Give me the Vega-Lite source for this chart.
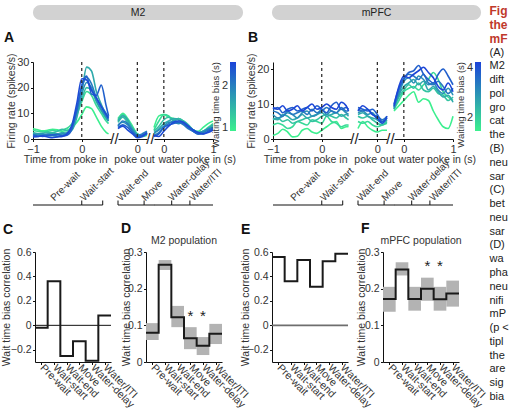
{
  "$schema": "https://vega.github.io/schema/vega-lite/v6.json",
  "autosize": {"type": "pad"},
  "padding": {"left": 0, "top": 5, "right": 0, "bottom": 0},
  "background": "white",
  "config": {
    "font": "Liberation Sans",
    "view": {"stroke": null},
    "axis": {"grid": false, "domainColor": "#111", "tickColor": "#111", "labelColor": "#333", "titleColor": "#333", "labelFontSize": 11, "titleFontSize": 10.5, "titleFontWeight": "normal", "tickSize": 2.5, "labelPadding": 1.5, "titlePadding": 0, "labelFlush": false, "labelOverlap": false, "tickCount": 10},
    "title": {"fontSize": 14, "fontWeight": "bold", "anchor": "start", "frame": "group", "baseline": "alphabetic", "color": "#111"},
    "legend": {"labelColor": "#333", "titleColor": "#333"},
    "text": {"color": "#222"}
  },
  "datasets": {
    "m2i": [
      {"b":0.95,"t":-1,"v":4},{"b":0.95,"t":-0.9,"v":3.6},{"b":0.95,"t":-0.8,"v":3.2},{"b":0.95,"t":-0.7,"v":3.4},{"b":0.95,"t":-0.6,"v":3.8},{"b":0.95,"t":-0.5,"v":3.6},{"b":0.95,"t":-0.4,"v":3},{"b":0.95,"t":-0.3,"v":3.4},{"b":0.95,"t":-0.2,"v":4.5},{"b":0.95,"t":-0.1,"v":6.5},{"b":0.95,"t":0,"v":9.5},{"b":0.95,"t":0.1,"v":12.5},{"b":0.95,"t":0.2,"v":11.8},{"b":0.95,"t":0.3,"v":8.5},{"b":0.95,"t":0.4,"v":5},{"b":0.95,"t":0.5,"v":2.6},{"b":0.95,"t":0.55,"v":2},
      {"b":1.15,"t":-1,"v":3.4},{"b":1.15,"t":-0.9,"v":3},{"b":1.15,"t":-0.8,"v":2.8},{"b":1.15,"t":-0.7,"v":3},{"b":1.15,"t":-0.6,"v":3.3},{"b":1.15,"t":-0.5,"v":3.1},{"b":1.15,"t":-0.4,"v":3.6},{"b":1.15,"t":-0.3,"v":4.2},{"b":1.15,"t":-0.2,"v":6},{"b":1.15,"t":-0.1,"v":9.5},{"b":1.15,"t":0,"v":14.5},{"b":1.15,"t":0.1,"v":18.5},{"b":1.15,"t":0.2,"v":17},{"b":1.15,"t":0.3,"v":13},{"b":1.15,"t":0.4,"v":10},{"b":1.15,"t":0.5,"v":7},{"b":1.15,"t":0.55,"v":6},
      {"b":1.4,"t":-1,"v":2.5},{"b":1.4,"t":-0.9,"v":2.1},{"b":1.4,"t":-0.8,"v":2.3},{"b":1.4,"t":-0.7,"v":2.6},{"b":1.4,"t":-0.6,"v":2.4},{"b":1.4,"t":-0.5,"v":3},{"b":1.4,"t":-0.4,"v":3.8},{"b":1.4,"t":-0.3,"v":3.2},{"b":1.4,"t":-0.2,"v":5},{"b":1.4,"t":-0.1,"v":10},{"b":1.4,"t":0,"v":15.5},{"b":1.4,"t":0.1,"v":20},{"b":1.4,"t":0.2,"v":19},{"b":1.4,"t":0.3,"v":14.5},{"b":1.4,"t":0.4,"v":11},{"b":1.4,"t":0.5,"v":8},{"b":1.4,"t":0.55,"v":7},
      {"b":1.6,"t":-1,"v":2},{"b":1.6,"t":-0.9,"v":1.8},{"b":1.6,"t":-0.8,"v":1.5},{"b":1.6,"t":-0.7,"v":1.9},{"b":1.6,"t":-0.6,"v":2.2},{"b":1.6,"t":-0.5,"v":2},{"b":1.6,"t":-0.4,"v":2.5},{"b":1.6,"t":-0.3,"v":2.2},{"b":1.6,"t":-0.2,"v":3.5},{"b":1.6,"t":-0.1,"v":8.5},{"b":1.6,"t":0,"v":18},{"b":1.6,"t":0.1,"v":28},{"b":1.6,"t":0.2,"v":26.5},{"b":1.6,"t":0.3,"v":18.5},{"b":1.6,"t":0.4,"v":13.5},{"b":1.6,"t":0.5,"v":9},{"b":1.6,"t":0.55,"v":7.5},
      {"b":1.85,"t":-1,"v":1.6},{"b":1.85,"t":-0.9,"v":1.9},{"b":1.85,"t":-0.8,"v":2},{"b":1.85,"t":-0.7,"v":1.5},{"b":1.85,"t":-0.6,"v":1.3},{"b":1.85,"t":-0.5,"v":1.6},{"b":1.85,"t":-0.4,"v":2},{"b":1.85,"t":-0.3,"v":2.5},{"b":1.85,"t":-0.2,"v":4.5},{"b":1.85,"t":-0.1,"v":10.5},{"b":1.85,"t":0,"v":17.5},{"b":1.85,"t":0.1,"v":22},{"b":1.85,"t":0.2,"v":20},{"b":1.85,"t":0.3,"v":15},{"b":1.85,"t":0.4,"v":11.5},{"b":1.85,"t":0.5,"v":8.5},{"b":1.85,"t":0.55,"v":7},
      {"b":2.05,"t":-1,"v":1.2},{"b":2.05,"t":-0.9,"v":1},{"b":2.05,"t":-0.8,"v":1.5},{"b":2.05,"t":-0.7,"v":1.8},{"b":2.05,"t":-0.6,"v":1.5},{"b":2.05,"t":-0.5,"v":1},{"b":2.05,"t":-0.4,"v":1.5},{"b":2.05,"t":-0.3,"v":2},{"b":2.05,"t":-0.2,"v":5},{"b":2.05,"t":-0.1,"v":12},{"b":2.05,"t":0,"v":20},{"b":2.05,"t":0.1,"v":24},{"b":2.05,"t":0.2,"v":21.5},{"b":2.05,"t":0.3,"v":16},{"b":2.05,"t":0.4,"v":13},{"b":2.05,"t":0.5,"v":10},{"b":2.05,"t":0.55,"v":8.5},
      {"b":2.3,"t":-1,"v":1.5},{"b":2.3,"t":-0.9,"v":1.2},{"b":2.3,"t":-0.8,"v":1},{"b":2.3,"t":-0.7,"v":1.3},{"b":2.3,"t":-0.6,"v":1.6},{"b":2.3,"t":-0.5,"v":1.8},{"b":2.3,"t":-0.4,"v":1.2},{"b":2.3,"t":-0.3,"v":1.5},{"b":2.3,"t":-0.2,"v":4},{"b":2.3,"t":-0.1,"v":11.5},{"b":2.3,"t":0,"v":21},{"b":2.3,"t":0.1,"v":24.5},{"b":2.3,"t":0.2,"v":17.5},{"b":2.3,"t":0.3,"v":17},{"b":2.3,"t":0.4,"v":21},{"b":2.3,"t":0.5,"v":13},{"b":2.3,"t":0.55,"v":9},
      {"b":2.5,"t":-1,"v":0.8},{"b":2.5,"t":-0.9,"v":1},{"b":2.5,"t":-0.8,"v":1.2},{"b":2.5,"t":-0.7,"v":0.8},{"b":2.5,"t":-0.6,"v":0.5},{"b":2.5,"t":-0.5,"v":0.8},{"b":2.5,"t":-0.4,"v":1},{"b":2.5,"t":-0.3,"v":2},{"b":2.5,"t":-0.2,"v":5.5},{"b":2.5,"t":-0.1,"v":14},{"b":2.5,"t":0,"v":23.5},{"b":2.5,"t":0.1,"v":23},{"b":2.5,"t":0.2,"v":19},{"b":2.5,"t":0.3,"v":16},{"b":2.5,"t":0.4,"v":12.5},{"b":2.5,"t":0.5,"v":9.5},{"b":2.5,"t":0.55,"v":8}
    ],
    "m2o": [
      {"b":0.95,"t":-0.4,"v":7.5},{"b":0.95,"t":-0.3,"v":10},{"b":0.95,"t":-0.2,"v":8},{"b":0.95,"t":-0.1,"v":5},{"b":0.95,"t":0,"v":2},{"b":0.95,"t":0.1,"v":1.5},{"b":0.95,"t":0.2,"v":2},
      {"b":1.15,"t":-0.4,"v":8},{"b":1.15,"t":-0.3,"v":9.5},{"b":1.15,"t":-0.2,"v":7},{"b":1.15,"t":-0.1,"v":4.5},{"b":1.15,"t":0,"v":1.5},{"b":1.15,"t":0.1,"v":1},{"b":1.15,"t":0.2,"v":1.5},
      {"b":1.4,"t":-0.4,"v":6.5},{"b":1.4,"t":-0.3,"v":8.5},{"b":1.4,"t":-0.2,"v":6.5},{"b":1.4,"t":-0.1,"v":4},{"b":1.4,"t":0,"v":2},{"b":1.4,"t":0.1,"v":1.5},{"b":1.4,"t":0.2,"v":2.5},
      {"b":1.6,"t":-0.4,"v":7},{"b":1.6,"t":-0.3,"v":9},{"b":1.6,"t":-0.2,"v":7.5},{"b":1.6,"t":-0.1,"v":4},{"b":1.6,"t":0,"v":1},{"b":1.6,"t":0.1,"v":1},{"b":1.6,"t":0.2,"v":2},
      {"b":1.85,"t":-0.4,"v":5.5},{"b":1.85,"t":-0.3,"v":6.5},{"b":1.85,"t":-0.2,"v":5.5},{"b":1.85,"t":-0.1,"v":3.5},{"b":1.85,"t":0,"v":1.5},{"b":1.85,"t":0.1,"v":1.2},{"b":1.85,"t":0.2,"v":2.5},
      {"b":2.05,"t":-0.4,"v":5},{"b":2.05,"t":-0.3,"v":7},{"b":2.05,"t":-0.2,"v":6},{"b":2.05,"t":-0.1,"v":3},{"b":2.05,"t":0,"v":1.5},{"b":2.05,"t":0.1,"v":2},{"b":2.05,"t":0.2,"v":3},
      {"b":2.3,"t":-0.4,"v":4.5},{"b":2.3,"t":-0.3,"v":5.5},{"b":2.3,"t":-0.2,"v":4.5},{"b":2.3,"t":-0.1,"v":2.5},{"b":2.3,"t":0,"v":1},{"b":2.3,"t":0.1,"v":1.5},{"b":2.3,"t":0.2,"v":2},
      {"b":2.5,"t":-0.4,"v":4},{"b":2.5,"t":-0.3,"v":5},{"b":2.5,"t":-0.2,"v":3.5},{"b":2.5,"t":-0.1,"v":2},{"b":2.5,"t":0,"v":0.5},{"b":2.5,"t":0.1,"v":1},{"b":2.5,"t":0.2,"v":2.5}
    ],
    "m2w": [
      {"b":0.95,"t":-0.2,"v":4.5},{"b":0.95,"t":-0.1,"v":9},{"b":0.95,"t":0,"v":9.5},{"b":0.95,"t":0.1,"v":8.5},{"b":0.95,"t":0.2,"v":8},{"b":0.95,"t":0.3,"v":7.5},{"b":0.95,"t":0.4,"v":6.5},{"b":0.95,"t":0.5,"v":5},{"b":0.95,"t":0.6,"v":3.5},{"b":0.95,"t":0.7,"v":3},{"b":0.95,"t":0.8,"v":4.5},{"b":0.95,"t":0.9,"v":6},{"b":0.95,"t":1,"v":7},
      {"b":1.15,"t":-0.2,"v":3.5},{"b":1.15,"t":-0.1,"v":7},{"b":1.15,"t":0,"v":9.5},{"b":1.15,"t":0.1,"v":9},{"b":1.15,"t":0.2,"v":7},{"b":1.15,"t":0.3,"v":8},{"b":1.15,"t":0.4,"v":7},{"b":1.15,"t":0.5,"v":5},{"b":1.15,"t":0.6,"v":3.5},{"b":1.15,"t":0.7,"v":2.5},{"b":1.15,"t":0.8,"v":3},{"b":1.15,"t":0.9,"v":4.5},{"b":1.15,"t":1,"v":6},
      {"b":1.4,"t":-0.2,"v":3},{"b":1.4,"t":-0.1,"v":5},{"b":1.4,"t":0,"v":7.5},{"b":1.4,"t":0.1,"v":8.5},{"b":1.4,"t":0.2,"v":7.5},{"b":1.4,"t":0.3,"v":8},{"b":1.4,"t":0.4,"v":7},{"b":1.4,"t":0.5,"v":5.5},{"b":1.4,"t":0.6,"v":3.5},{"b":1.4,"t":0.7,"v":2.5},{"b":1.4,"t":0.8,"v":3},{"b":1.4,"t":0.9,"v":4},{"b":1.4,"t":1,"v":5},
      {"b":1.6,"t":-0.2,"v":2},{"b":1.6,"t":-0.1,"v":4},{"b":1.6,"t":0,"v":6},{"b":1.6,"t":0.1,"v":7},{"b":1.6,"t":0.2,"v":8},{"b":1.6,"t":0.3,"v":7.5},{"b":1.6,"t":0.4,"v":6},{"b":1.6,"t":0.5,"v":4.5},{"b":1.6,"t":0.6,"v":3},{"b":1.6,"t":0.7,"v":2},{"b":1.6,"t":0.8,"v":2.5},{"b":1.6,"t":0.9,"v":4},{"b":1.6,"t":1,"v":5.5},
      {"b":1.85,"t":-0.2,"v":2.5},{"b":1.85,"t":-0.1,"v":3.5},{"b":1.85,"t":0,"v":5},{"b":1.85,"t":0.1,"v":6.5},{"b":1.85,"t":0.2,"v":6.5},{"b":1.85,"t":0.3,"v":6},{"b":1.85,"t":0.4,"v":6.5},{"b":1.85,"t":0.5,"v":5},{"b":1.85,"t":0.6,"v":3.5},{"b":1.85,"t":0.7,"v":2.5},{"b":1.85,"t":0.8,"v":3},{"b":1.85,"t":0.9,"v":4},{"b":1.85,"t":1,"v":4.5},
      {"b":2.05,"t":-0.2,"v":1.5},{"b":2.05,"t":-0.1,"v":2.5},{"b":2.05,"t":0,"v":4.5},{"b":2.05,"t":0.1,"v":6},{"b":2.05,"t":0.2,"v":7},{"b":2.05,"t":0.3,"v":6.5},{"b":2.05,"t":0.4,"v":5.5},{"b":2.05,"t":0.5,"v":4},{"b":2.05,"t":0.6,"v":3},{"b":2.05,"t":0.7,"v":2},{"b":2.05,"t":0.8,"v":2.5},{"b":2.05,"t":0.9,"v":3.5},{"b":2.05,"t":1,"v":4.5},
      {"b":2.3,"t":-0.2,"v":1},{"b":2.3,"t":-0.1,"v":2},{"b":2.3,"t":0,"v":4.5},{"b":2.3,"t":0.1,"v":5.5},{"b":2.3,"t":0.2,"v":6},{"b":2.3,"t":0.3,"v":6.5},{"b":2.3,"t":0.4,"v":6},{"b":2.3,"t":0.5,"v":4.5},{"b":2.3,"t":0.6,"v":3},{"b":2.3,"t":0.7,"v":2},{"b":2.3,"t":0.8,"v":2},{"b":2.3,"t":0.9,"v":3},{"b":2.3,"t":1,"v":4},
      {"b":2.5,"t":-0.2,"v":1.5},{"b":2.5,"t":-0.1,"v":1},{"b":2.5,"t":0,"v":3},{"b":2.5,"t":0.1,"v":5},{"b":2.5,"t":0.2,"v":6.5},{"b":2.5,"t":0.3,"v":7},{"b":2.5,"t":0.4,"v":6.5},{"b":2.5,"t":0.5,"v":5},{"b":2.5,"t":0.6,"v":3.5},{"b":2.5,"t":0.7,"v":2.5},{"b":2.5,"t":0.8,"v":2},{"b":2.5,"t":0.9,"v":2.5},{"b":2.5,"t":1,"v":3.5}
    ],
    "pfi": [
      {"b":1.5,"t":-1,"v":1},{"b":1.5,"t":-0.9,"v":1.6},{"b":1.5,"t":-0.8,"v":2.8},{"b":1.5,"t":-0.7,"v":2},{"b":1.5,"t":-0.6,"v":0.6},{"b":1.5,"t":-0.5,"v":0.8},{"b":1.5,"t":-0.4,"v":2.5},{"b":1.5,"t":-0.3,"v":3},{"b":1.5,"t":-0.2,"v":2},{"b":1.5,"t":-0.1,"v":1.6},{"b":1.5,"t":0,"v":2.5},{"b":1.5,"t":0.1,"v":3.5},{"b":1.5,"t":0.2,"v":4.5},{"b":1.5,"t":0.3,"v":5},{"b":1.5,"t":0.4,"v":3},{"b":1.5,"t":0.5,"v":3.5},{"b":1.5,"t":0.55,"v":3.6},
      {"b":1.85,"t":-1,"v":4},{"b":1.85,"t":-0.9,"v":4.5},{"b":1.85,"t":-0.8,"v":4},{"b":1.85,"t":-0.7,"v":3},{"b":1.85,"t":-0.6,"v":3.5},{"b":1.85,"t":-0.5,"v":5},{"b":1.85,"t":-0.4,"v":4.5},{"b":1.85,"t":-0.3,"v":4},{"b":1.85,"t":-0.2,"v":5.5},{"b":1.85,"t":-0.1,"v":5},{"b":1.85,"t":0,"v":4.5},{"b":1.85,"t":0.1,"v":6.5},{"b":1.85,"t":0.2,"v":5},{"b":1.85,"t":0.3,"v":4.5},{"b":1.85,"t":0.4,"v":3.5},{"b":1.85,"t":0.5,"v":4},{"b":1.85,"t":0.55,"v":4},
      {"b":2.2,"t":-1,"v":5.5},{"b":2.2,"t":-0.9,"v":6},{"b":2.2,"t":-0.8,"v":5},{"b":2.2,"t":-0.7,"v":5.5},{"b":2.2,"t":-0.6,"v":4.5},{"b":2.2,"t":-0.5,"v":5},{"b":2.2,"t":-0.4,"v":5.5},{"b":2.2,"t":-0.3,"v":6},{"b":2.2,"t":-0.2,"v":5},{"b":2.2,"t":-0.1,"v":5.5},{"b":2.2,"t":0,"v":6.5},{"b":2.2,"t":0.1,"v":7},{"b":2.2,"t":0.2,"v":6.5},{"b":2.2,"t":0.3,"v":6},{"b":2.2,"t":0.4,"v":7},{"b":2.2,"t":0.5,"v":6},{"b":2.2,"t":0.55,"v":5.5},
      {"b":2.6,"t":-1,"v":6},{"b":2.6,"t":-0.9,"v":5.5},{"b":2.6,"t":-0.8,"v":7},{"b":2.6,"t":-0.7,"v":6.5},{"b":2.6,"t":-0.6,"v":5.5},{"b":2.6,"t":-0.5,"v":6},{"b":2.6,"t":-0.4,"v":7},{"b":2.6,"t":-0.3,"v":6},{"b":2.6,"t":-0.2,"v":6.5},{"b":2.6,"t":-0.1,"v":7},{"b":2.6,"t":0,"v":7.5},{"b":2.6,"t":0.1,"v":6.5},{"b":2.6,"t":0.2,"v":7},{"b":2.6,"t":0.3,"v":7.5},{"b":2.6,"t":0.4,"v":6.5},{"b":2.6,"t":0.5,"v":7},{"b":2.6,"t":0.55,"v":6.5},
      {"b":3,"t":-1,"v":7},{"b":3,"t":-0.9,"v":6},{"b":3,"t":-0.8,"v":6.5},{"b":3,"t":-0.7,"v":7.5},{"b":3,"t":-0.6,"v":7},{"b":3,"t":-0.5,"v":6},{"b":3,"t":-0.4,"v":7.5},{"b":3,"t":-0.3,"v":8},{"b":3,"t":-0.2,"v":6.5},{"b":3,"t":-0.1,"v":7},{"b":3,"t":0,"v":8.5},{"b":3,"t":0.1,"v":7},{"b":3,"t":0.2,"v":8},{"b":3,"t":0.3,"v":7.5},{"b":3,"t":0.4,"v":8.5},{"b":3,"t":0.5,"v":7.5},{"b":3,"t":0.55,"v":7},
      {"b":3.4,"t":-1,"v":8},{"b":3.4,"t":-0.9,"v":7.5},{"b":3.4,"t":-0.8,"v":6.5},{"b":3.4,"t":-0.7,"v":8},{"b":3.4,"t":-0.6,"v":7},{"b":3.4,"t":-0.5,"v":7.5},{"b":3.4,"t":-0.4,"v":8},{"b":3.4,"t":-0.3,"v":7},{"b":3.4,"t":-0.2,"v":8.5},{"b":3.4,"t":-0.1,"v":7.5},{"b":3.4,"t":0,"v":8},{"b":3.4,"t":0.1,"v":9},{"b":3.4,"t":0.2,"v":8},{"b":3.4,"t":0.3,"v":7.5},{"b":3.4,"t":0.4,"v":9},{"b":3.4,"t":0.5,"v":8},{"b":3.4,"t":0.55,"v":8},
      {"b":3.8,"t":-1,"v":8.5},{"b":3.8,"t":-0.9,"v":9},{"b":3.8,"t":-0.8,"v":7.5},{"b":3.8,"t":-0.7,"v":8.5},{"b":3.8,"t":-0.6,"v":9},{"b":3.8,"t":-0.5,"v":8},{"b":3.8,"t":-0.4,"v":8.5},{"b":3.8,"t":-0.3,"v":9},{"b":3.8,"t":-0.2,"v":8},{"b":3.8,"t":-0.1,"v":9.5},{"b":3.8,"t":0,"v":8.5},{"b":3.8,"t":0.1,"v":7.5},{"b":3.8,"t":0.2,"v":9.5},{"b":3.8,"t":0.3,"v":10.5},{"b":3.8,"t":0.4,"v":8.5},{"b":3.8,"t":0.5,"v":9},{"b":3.8,"t":0.55,"v":8.5},
      {"b":4.2,"t":-1,"v":9},{"b":4.2,"t":-0.9,"v":8.5},{"b":4.2,"t":-0.8,"v":9.5},{"b":4.2,"t":-0.7,"v":8},{"b":4.2,"t":-0.6,"v":8.5},{"b":4.2,"t":-0.5,"v":9.5},{"b":4.2,"t":-0.4,"v":8},{"b":4.2,"t":-0.3,"v":9},{"b":4.2,"t":-0.2,"v":10},{"b":4.2,"t":-0.1,"v":8.5},{"b":4.2,"t":0,"v":9},{"b":4.2,"t":0.1,"v":10},{"b":4.2,"t":0.2,"v":9},{"b":4.2,"t":0.3,"v":8.5},{"b":4.2,"t":0.4,"v":10.5},{"b":4.2,"t":0.5,"v":9.5},{"b":4.2,"t":0.55,"v":8}
    ],
    "pfo": [
      {"b":1.5,"t":-0.4,"v":3},{"b":1.5,"t":-0.3,"v":5},{"b":1.5,"t":-0.2,"v":3.5},{"b":1.5,"t":-0.1,"v":2.5},{"b":1.5,"t":0,"v":2},{"b":1.5,"t":0.1,"v":2.5},{"b":1.5,"t":0.2,"v":2.5},
      {"b":1.85,"t":-0.4,"v":5},{"b":1.85,"t":-0.3,"v":4.5},{"b":1.85,"t":-0.2,"v":5},{"b":1.85,"t":-0.1,"v":4},{"b":1.85,"t":0,"v":3.5},{"b":1.85,"t":0.1,"v":4},{"b":1.85,"t":0.2,"v":4.5},
      {"b":2.2,"t":-0.4,"v":6.5},{"b":2.2,"t":-0.3,"v":6},{"b":2.2,"t":-0.2,"v":6.5},{"b":2.2,"t":-0.1,"v":5.5},{"b":2.2,"t":0,"v":4.5},{"b":2.2,"t":0.1,"v":4},{"b":2.2,"t":0.2,"v":5},
      {"b":2.6,"t":-0.4,"v":7},{"b":2.6,"t":-0.3,"v":7.5},{"b":2.6,"t":-0.2,"v":6.5},{"b":2.6,"t":-0.1,"v":6},{"b":2.6,"t":0,"v":5.5},{"b":2.6,"t":0.1,"v":4.5},{"b":2.6,"t":0.2,"v":5.5},
      {"b":3,"t":-0.4,"v":7.5},{"b":3,"t":-0.3,"v":8},{"b":3,"t":-0.2,"v":7},{"b":3,"t":-0.1,"v":7.5},{"b":3,"t":0,"v":5.5},{"b":3,"t":0.1,"v":5},{"b":3,"t":0.2,"v":6},
      {"b":3.4,"t":-0.4,"v":8.5},{"b":3.4,"t":-0.3,"v":8},{"b":3.4,"t":-0.2,"v":8.5},{"b":3.4,"t":-0.1,"v":7},{"b":3.4,"t":0,"v":6.5},{"b":3.4,"t":0.1,"v":5.5},{"b":3.4,"t":0.2,"v":6.5},
      {"b":3.8,"t":-0.4,"v":9},{"b":3.8,"t":-0.3,"v":8.5},{"b":3.8,"t":-0.2,"v":8},{"b":3.8,"t":-0.1,"v":8.5},{"b":3.8,"t":0,"v":7},{"b":3.8,"t":0.1,"v":5},{"b":3.8,"t":0.2,"v":6},
      {"b":4.2,"t":-0.4,"v":8},{"b":4.2,"t":-0.3,"v":9.5},{"b":4.2,"t":-0.2,"v":8.5},{"b":4.2,"t":-0.1,"v":7},{"b":4.2,"t":0,"v":6},{"b":4.2,"t":0.1,"v":4.5},{"b":4.2,"t":0.2,"v":6.5}
    ],
    "pfw": [
      {"b":1.5,"t":-0.2,"v":8},{"b":1.5,"t":-0.1,"v":9.5},{"b":1.5,"t":0,"v":11},{"b":1.5,"t":0.1,"v":12.5},{"b":1.5,"t":0.2,"v":13.5},{"b":1.5,"t":0.3,"v":10.5},{"b":1.5,"t":0.4,"v":11.5},{"b":1.5,"t":0.5,"v":11},{"b":1.5,"t":0.6,"v":8},{"b":1.5,"t":0.7,"v":5.5},{"b":1.5,"t":0.8,"v":3.5},{"b":1.5,"t":0.9,"v":3},{"b":1.5,"t":1,"v":6.5},
      {"b":1.85,"t":-0.2,"v":8.5},{"b":1.85,"t":-0.1,"v":11},{"b":1.85,"t":0,"v":13.5},{"b":1.85,"t":0.1,"v":14.5},{"b":1.85,"t":0.2,"v":15},{"b":1.85,"t":0.3,"v":14},{"b":1.85,"t":0.4,"v":15.5},{"b":1.85,"t":0.5,"v":17},{"b":1.85,"t":0.6,"v":19},{"b":1.85,"t":0.7,"v":17},{"b":1.85,"t":0.8,"v":13.5},{"b":1.85,"t":0.9,"v":12},{"b":1.85,"t":1,"v":11},
      {"b":2.2,"t":-0.2,"v":9},{"b":2.2,"t":-0.1,"v":12},{"b":2.2,"t":0,"v":14},{"b":2.2,"t":0.1,"v":15.5},{"b":2.2,"t":0.2,"v":14.5},{"b":2.2,"t":0.3,"v":16},{"b":2.2,"t":0.4,"v":14},{"b":2.2,"t":0.5,"v":13.5},{"b":2.2,"t":0.6,"v":14.5},{"b":2.2,"t":0.7,"v":13},{"b":2.2,"t":0.8,"v":12.5},{"b":2.2,"t":0.9,"v":11},{"b":2.2,"t":1,"v":12},
      {"b":2.6,"t":-0.2,"v":8.5},{"b":2.6,"t":-0.1,"v":12.5},{"b":2.6,"t":0,"v":15},{"b":2.6,"t":0.1,"v":16},{"b":2.6,"t":0.2,"v":17},{"b":2.6,"t":0.3,"v":15.5},{"b":2.6,"t":0.4,"v":16.5},{"b":2.6,"t":0.5,"v":14},{"b":2.6,"t":0.6,"v":15},{"b":2.6,"t":0.7,"v":13.5},{"b":2.6,"t":0.8,"v":12},{"b":2.6,"t":0.9,"v":12.5},{"b":2.6,"t":1,"v":10.5},
      {"b":3,"t":-0.2,"v":9.5},{"b":3,"t":-0.1,"v":13},{"b":3,"t":0,"v":16.5},{"b":3,"t":0.1,"v":17.5},{"b":3,"t":0.2,"v":16},{"b":3,"t":0.3,"v":18},{"b":3,"t":0.4,"v":17},{"b":3,"t":0.5,"v":15.5},{"b":3,"t":0.6,"v":16},{"b":3,"t":0.7,"v":14},{"b":3,"t":0.8,"v":13},{"b":3,"t":0.9,"v":14.5},{"b":3,"t":1,"v":12.5},
      {"b":3.4,"t":-0.2,"v":9},{"b":3.4,"t":-0.1,"v":14},{"b":3.4,"t":0,"v":17.5},{"b":3.4,"t":0.1,"v":18.5},{"b":3.4,"t":0.2,"v":18},{"b":3.4,"t":0.3,"v":17},{"b":3.4,"t":0.4,"v":18.5},{"b":3.4,"t":0.5,"v":16},{"b":3.4,"t":0.6,"v":15.5},{"b":3.4,"t":0.7,"v":16.5},{"b":3.4,"t":0.8,"v":15},{"b":3.4,"t":0.9,"v":13},{"b":3.4,"t":1,"v":14.5},
      {"b":3.8,"t":-0.2,"v":10},{"b":3.8,"t":-0.1,"v":14.5},{"b":3.8,"t":0,"v":17},{"b":3.8,"t":0.1,"v":19},{"b":3.8,"t":0.2,"v":19.5},{"b":3.8,"t":0.3,"v":21},{"b":3.8,"t":0.4,"v":18.5},{"b":3.8,"t":0.5,"v":17},{"b":3.8,"t":0.6,"v":16},{"b":3.8,"t":0.7,"v":18.5},{"b":3.8,"t":0.8,"v":20},{"b":3.8,"t":0.9,"v":18},{"b":3.8,"t":1,"v":15.5},
      {"b":4.2,"t":-0.2,"v":9.5},{"b":4.2,"t":-0.1,"v":15},{"b":4.2,"t":0,"v":18},{"b":4.2,"t":0.1,"v":17.5},{"b":4.2,"t":0.2,"v":18.5},{"b":4.2,"t":0.3,"v":19.5},{"b":4.2,"t":0.4,"v":20.5},{"b":4.2,"t":0.5,"v":19},{"b":4.2,"t":0.6,"v":17.5},{"b":4.2,"t":0.7,"v":15},{"b":4.2,"t":0.8,"v":14},{"b":4.2,"t":0.9,"v":16},{"b":4.2,"t":1,"v":13.5}
    ],
    "brk": [
      {"s":"i","p":"Pre-wait","t0":-1,"t1":0,"tl":-0.53},
      {"s":"i","p":"Wait-start","t0":0,"t1":0.43,"tl":0.08},
      {"s":"o","p":"Wait-end","t0":-0.4,"t1":0.14,"tl":-0.31},
      {"s":"o","p":"Move","t0":0.14,"t1":0.35,"tl":0.2},
      {"s":"w","p":null,"t0":-0.2,"t1":0.16,"tl":null},
      {"s":"w","p":"Water-delay","t0":0.16,"t1":0.53,"tl":0.2},
      {"s":"w","p":"Water/ITI","t0":0.53,"t1":1,"tl":0.63}
    ],
    "brt": [
      {"s":"i","t":0},{"s":"i","t":0.43},{"s":"o","t":-0.4},{"s":"o","t":0.14},{"s":"w","t":0.16},{"s":"w","t":0.53}
    ],
    "cC": [
      {"p":"Pre-wait","k":0,"r":-0.02},{"p":"Wait-start","k":1,"r":0.36},{"p":"Wait-end","k":2,"r":-0.25},{"p":"Move","k":3,"r":-0.13},{"p":"Water-delay","k":4,"r":-0.29},{"p":"Water/ITI","k":5,"r":0.08},{"p":"end","k":6,"r":0.08}
    ],
    "cD": [
      {"p":"Pre-wait","k":0,"r":0.08},{"p":"Wait-start","k":1,"r":0.265},{"p":"Wait-end","k":2,"r":0.122},{"p":"Move","k":3,"r":0.065},{"p":"Water-delay","k":4,"r":0.044},{"p":"Water/ITI","k":5,"r":0.077},{"p":"end","k":6,"r":0.077}
    ],
    "cE": [
      {"p":"Pre-wait","k":0,"r":0.56},{"p":"Wait-start","k":1,"r":0.36},{"p":"Wait-end","k":2,"r":0.535},{"p":"Move","k":3,"r":0.315},{"p":"Water-delay","k":4,"r":0.525},{"p":"Water/ITI","k":5,"r":0.585},{"p":"end","k":6,"r":0.585}
    ],
    "cF": [
      {"p":"Pre-wait","k":0,"r":0.172},{"p":"Wait-start","k":1,"r":0.252},{"p":"Wait-end","k":2,"r":0.172},{"p":"Move","k":3,"r":0.2},{"p":"Water-delay","k":4,"r":0.171},{"p":"Water/ITI","k":5,"r":0.187},{"p":"end","k":6,"r":0.187}
    ],
    "bD": [
      {"p":"Pre-wait","lo":0.06,"hi":0.106},{"p":"Wait-start","lo":0.251,"hi":0.278},{"p":"Wait-end","lo":0.095,"hi":0.153},{"p":"Move","lo":0.035,"hi":0.095},{"p":"Water-delay","lo":0.019,"hi":0.068},{"p":"Water/ITI","lo":0.049,"hi":0.104}
    ],
    "bF": [
      {"p":"Pre-wait","lo":0.137,"hi":0.205},{"p":"Wait-start","lo":0.236,"hi":0.272},{"p":"Wait-end","lo":0.14,"hi":0.205},{"p":"Move","lo":0.167,"hi":0.23},{"p":"Water-delay","lo":0.14,"hi":0.205},{"p":"Water/ITI","lo":0.151,"hi":0.222}
    ],
    "sD": [{"p":"Move","y":0.14},{"p":"Water-delay","y":0.14}],
    "sF": [{"p":"Move","y":0.275},{"p":"Water-delay","y":0.275}],
    "cap": [
      {"i":0,"txt":"Fig"},{"i":1,"txt":"the"},{"i":2,"txt":"mF"},
      {"i":3,"txt":"(A)"},{"i":4,"txt":"M2"},{"i":5,"txt":"dift"},{"i":6,"txt":"pol"},{"i":7,"txt":"gro"},{"i":8,"txt":"cat"},{"i":9,"txt":"the"},
      {"i":10,"txt":"(B)"},{"i":11,"txt":"neu"},{"i":12,"txt":"sar"},{"i":13,"txt":"(C)"},{"i":14,"txt":"bet"},{"i":15,"txt":"neu"},{"i":16,"txt":"sar"},
      {"i":17,"txt":"(D)"},{"i":18,"txt":"wa"},{"i":19,"txt":"pha"},{"i":20,"txt":"neu"},{"i":21,"txt":"nifi"},{"i":22,"txt":"mP"},{"i":23,"txt":"(p <"},
      {"i":24,"txt":"tipl"},{"i":25,"txt":"the"},{"i":26,"txt":"are"},{"i":27,"txt":"sig"},{"i":28,"txt":"bia"}
    ]
  },
  "hconcat": [
    {
      "vconcat": [
        {
          "hconcat": [
            {
              "width": 210, "height": 15,
              "view": {"fill": "#d2d2d2", "stroke": null, "cornerRadius": 7.5},
              "data": {"values": [{"lab": "M2"}]},
              "mark": {"type": "text", "fontSize": 10.5, "baseline": "middle"},
              "encoding": {"text": {"field": "lab"}}
            },
            {
              "width": 209, "height": 15,
              "view": {"fill": "#d2d2d2", "stroke": null, "cornerRadius": 7.5},
              "data": {"values": [{"lab": "mPFC"}]},
              "mark": {"type": "text", "fontSize": 10.5, "baseline": "middle"},
              "encoding": {"text": {"field": "lab"}}
            }
          ],
          "spacing": 29, "bounds": "flush"
        },
        {
          "vconcat": [
            {
              "hconcat": [
                {
                  "width": 78, "height": 77,
                  "title": {"text": "A", "dx": -29, "offset": 8},
                  "layer": [
                    {
                      "data": {"name": "m2i"},
                      "mark": {"type": "line", "interpolate": "monotone", "strokeWidth": 1.6},
                      "encoding": {
                        "x": {"field": "t", "type": "quantitative", "scale": {"domain": [-1, 0.6], "nice": false, "zero": false}, "axis": {"values": [-1, 0], "tickCount": 10, "format": "d", "title": "Time from poke in", "titleAnchor": "end", "titleX": 74}},
                        "y": {"field": "v", "type": "quantitative", "scale": {"domain": [0, 30], "nice": false}, "axis": {"values": [0, 10, 20, 30], "tickCount": 10, "title": "Firing rate (spikes/s)", "titleX": -17}},
                        "color": {"field": "b", "type": "quantitative", "scale": {"domain": [0.93, 2.57], "range": ["#3cf08e", "#1c44d8"], "interpolate": "rgb"}, "legend": null},
                        "detail": {"field": "b", "type": "nominal"}
                      }
                    },
                    {"data": {"values": [{}]}, "mark": {"type": "rule", "strokeDash": [3, 3], "color": "#222", "strokeWidth": 1.2}, "encoding": {"x": {"datum": 0}}},
                    {"data": {"values": [{}]}, "mark": {"type": "text", "text": "//", "fontSize": 15, "dx": 3.5, "baseline": "middle"}, "encoding": {"x": {"datum": 0.6}, "y": {"datum": 0}}}
                  ]
                },
                {
                  "width": 29, "height": 77,
                  "layer": [
                    {
                      "data": {"name": "m2o"},
                      "mark": {"type": "line", "interpolate": "monotone", "strokeWidth": 1.6},
                      "encoding": {
                        "x": {"field": "t", "type": "quantitative", "scale": {"domain": [-0.4, 0.2], "nice": false, "zero": false}, "axis": {"values": [0], "tickCount": 10, "format": "d", "title": "poke out", "titleX": 16}},
                        "y": {"field": "v", "type": "quantitative", "scale": {"domain": [0, 30], "nice": false}, "axis": null},
                        "color": {"field": "b", "type": "quantitative", "scale": {"domain": [0.93, 2.57], "range": ["#3cf08e", "#1c44d8"], "interpolate": "rgb"}, "legend": null},
                        "detail": {"field": "b", "type": "nominal"}
                      }
                    },
                    {"data": {"values": [{}]}, "mark": {"type": "rule", "strokeDash": [3, 3], "color": "#222", "strokeWidth": 1.2}, "encoding": {"x": {"datum": 0}}},
                    {"data": {"values": [{}]}, "mark": {"type": "text", "text": "//", "fontSize": 15, "dx": 3.5, "baseline": "middle"}, "encoding": {"x": {"datum": 0.2}, "y": {"datum": 0, "axis": null}}}
                  ]
                },
                {
                  "width": 59, "height": 77,
                  "layer": [
                    {
                      "data": {"name": "m2w"},
                      "mark": {"type": "line", "interpolate": "monotone", "strokeWidth": 1.6},
                      "encoding": {
                        "x": {"field": "t", "type": "quantitative", "scale": {"domain": [-0.2, 1], "nice": false, "zero": false}, "axis": {"values": [0, 1], "tickCount": 10, "format": "d", "title": "water poke in (s)", "titleAnchor": "start", "titleX": 4}},
                        "y": {"field": "v", "type": "quantitative", "scale": {"domain": [0, 30], "nice": false}, "axis": null},
                        "color": {"field": "b", "type": "quantitative", "scale": {"domain": [0.93, 2.57], "range": ["#3cf08e", "#1c44d8"], "interpolate": "rgb"}, "legend": {"title": "Waiting time bias (s)", "orient": "none", "legendX": 57, "legendY": 0, "titleOrient": "left", "titleAnchor": "end", "gradientLength": 69, "gradientThickness": 6, "values": [1, 2], "labelOffset": -14, "labelFontSize": 11, "titleFontSize": 9.5, "titleFontWeight": "normal", "titlePadding": 9, "gradientStrokeWidth": 0}},
                        "detail": {"field": "b", "type": "nominal"}
                      }
                    },
                    {"data": {"values": [{}]}, "mark": {"type": "rule", "strokeDash": [3, 3], "color": "#222", "strokeWidth": 1.2}, "encoding": {"x": {"datum": 0}}}
                  ]
                },
                {"width": 46, "height": 77, "data": {"values": []}, "mark": "point"},
                {
                  "width": 78, "height": 77,
                  "title": {"text": "B", "dx": -25, "offset": 8},
                  "layer": [
                    {
                      "data": {"name": "pfi"},
                      "mark": {"type": "line", "interpolate": "monotone", "strokeWidth": 1.6},
                      "encoding": {
                        "x": {"field": "t", "type": "quantitative", "scale": {"domain": [-1, 0.6], "nice": false, "zero": false}, "axis": {"values": [-1, 0], "tickCount": 10, "format": "d", "title": "Time from poke in", "titleAnchor": "end", "titleX": 74}},
                        "y": {"field": "v", "type": "quantitative", "scale": {"domain": [0, 22], "nice": false}, "axis": {"values": [0, 10, 20], "tickCount": 10, "title": "Firing rate (spikes/s)", "titleX": -17}},
                        "color": {"field": "b", "type": "quantitative", "scale": {"domain": [1.48, 4.24], "range": ["#3cf08e", "#1c44d8"], "interpolate": "rgb"}, "legend": null},
                        "detail": {"field": "b", "type": "nominal"}
                      }
                    },
                    {"data": {"values": [{}]}, "mark": {"type": "rule", "strokeDash": [3, 3], "color": "#222", "strokeWidth": 1.2}, "encoding": {"x": {"datum": 0}}},
                    {"data": {"values": [{}]}, "mark": {"type": "text", "text": "//", "fontSize": 15, "dx": 3.5, "baseline": "middle"}, "encoding": {"x": {"datum": 0.6}, "y": {"datum": 0}}}
                  ]
                },
                {
                  "width": 29, "height": 77,
                  "layer": [
                    {
                      "data": {"name": "pfo"},
                      "mark": {"type": "line", "interpolate": "monotone", "strokeWidth": 1.6},
                      "encoding": {
                        "x": {"field": "t", "type": "quantitative", "scale": {"domain": [-0.4, 0.2], "nice": false, "zero": false}, "axis": {"values": [0], "tickCount": 10, "format": "d", "title": "poke out", "titleX": 16}},
                        "y": {"field": "v", "type": "quantitative", "scale": {"domain": [0, 22], "nice": false}, "axis": null},
                        "color": {"field": "b", "type": "quantitative", "scale": {"domain": [1.48, 4.24], "range": ["#3cf08e", "#1c44d8"], "interpolate": "rgb"}, "legend": null},
                        "detail": {"field": "b", "type": "nominal"}
                      }
                    },
                    {"data": {"values": [{}]}, "mark": {"type": "rule", "strokeDash": [3, 3], "color": "#222", "strokeWidth": 1.2}, "encoding": {"x": {"datum": 0}}},
                    {"data": {"values": [{}]}, "mark": {"type": "text", "text": "//", "fontSize": 15, "dx": 3.5, "baseline": "middle"}, "encoding": {"x": {"datum": 0.2}, "y": {"datum": 0, "axis": null}}}
                  ]
                },
                {
                  "width": 59, "height": 77,
                  "layer": [
                    {
                      "data": {"name": "pfw"},
                      "mark": {"type": "line", "interpolate": "monotone", "strokeWidth": 1.6},
                      "encoding": {
                        "x": {"field": "t", "type": "quantitative", "scale": {"domain": [-0.2, 1], "nice": false, "zero": false}, "axis": {"values": [0, 1], "tickCount": 10, "format": "d", "title": "water poke in (s)", "titleAnchor": "start", "titleX": 4}},
                        "y": {"field": "v", "type": "quantitative", "scale": {"domain": [0, 22], "nice": false}, "axis": null},
                        "color": {"field": "b", "type": "quantitative", "scale": {"domain": [1.48, 4.24], "range": ["#3cf08e", "#1c44d8"], "interpolate": "rgb"}, "legend": {"title": "Waiting time bias (s)", "orient": "none", "legendX": 62, "legendY": 0, "titleOrient": "left", "titleAnchor": "end", "gradientLength": 69, "gradientThickness": 6, "values": [2, 4], "labelOffset": -14, "labelFontSize": 11, "titleFontSize": 9.5, "titleFontWeight": "normal", "titlePadding": 9, "gradientStrokeWidth": 0}},
                        "detail": {"field": "b", "type": "nominal"}
                      }
                    },
                    {"data": {"values": [{}]}, "mark": {"type": "rule", "strokeDash": [3, 3], "color": "#222", "strokeWidth": 1.2}, "encoding": {"x": {"datum": 0}}}
                  ]
                }
              ],
              "spacing": 7, "bounds": "flush",
              "resolve": {"scale": {"color": "independent"}, "legend": {"color": "independent"}}
            },
            {
              "vconcat": [
                {
                  "hconcat": [
                    {
                      "width": 78, "height": 10,
                      "layer": [
                        {"data": {"name": "brk"}, "transform": [{"filter": "datum.s == 'i'"}], "mark": {"type": "rule", "color": "#111"}, "encoding": {"x": {"field": "t0", "type": "quantitative", "scale": {"domain": [-1, 0.6], "nice": false, "zero": false}, "axis": null}, "x2": {"field": "t1"}, "y": {"datum": 0, "type": "quantitative", "scale": {"domain": [0, 1]}, "axis": null}}},
                        {"data": {"name": "brt"}, "transform": [{"filter": "datum.s == 'i'"}], "mark": {"type": "rule", "color": "#111"}, "encoding": {"x": {"field": "t", "type": "quantitative", "axis": null}, "y": {"datum": 0, "type": "quantitative", "axis": null}, "y2": {"datum": 0.45}}},
                        {"data": {"name": "brk"}, "transform": [{"filter": "datum.s == 'i' && datum.p != null"}], "mark": {"type": "text", "angle": -45, "align": "left", "baseline": "bottom", "fontSize": 10, "color": "#333"}, "encoding": {"x": {"field": "tl", "type": "quantitative", "axis": null}, "y": {"datum": 0.2, "type": "quantitative", "axis": null}, "text": {"field": "p"}}}
                      ]
                    },
                    {
                      "width": 29, "height": 10,
                      "layer": [
                        {"data": {"name": "brk"}, "transform": [{"filter": "datum.s == 'o'"}], "mark": {"type": "rule", "color": "#111"}, "encoding": {"x": {"field": "t0", "type": "quantitative", "scale": {"domain": [-0.4, 0.2], "nice": false, "zero": false}, "axis": null}, "x2": {"field": "t1"}, "y": {"datum": 0, "type": "quantitative", "scale": {"domain": [0, 1]}, "axis": null}}},
                        {"data": {"name": "brt"}, "transform": [{"filter": "datum.s == 'o'"}], "mark": {"type": "rule", "color": "#111"}, "encoding": {"x": {"field": "t", "type": "quantitative", "axis": null}, "y": {"datum": 0, "type": "quantitative", "axis": null}, "y2": {"datum": 0.45}}},
                        {"data": {"name": "brk"}, "transform": [{"filter": "datum.s == 'o' && datum.p != null"}], "mark": {"type": "text", "angle": -45, "align": "left", "baseline": "bottom", "fontSize": 10, "color": "#333"}, "encoding": {"x": {"field": "tl", "type": "quantitative", "axis": null}, "y": {"datum": 0.2, "type": "quantitative", "axis": null}, "text": {"field": "p"}}}
                      ]
                    },
                    {
                      "width": 59, "height": 10,
                      "layer": [
                        {"data": {"name": "brk"}, "transform": [{"filter": "datum.s == 'w'"}], "mark": {"type": "rule", "color": "#111"}, "encoding": {"x": {"field": "t0", "type": "quantitative", "scale": {"domain": [-0.2, 1], "nice": false, "zero": false}, "axis": null}, "x2": {"field": "t1"}, "y": {"datum": 0, "type": "quantitative", "scale": {"domain": [0, 1]}, "axis": null}}},
                        {"data": {"name": "brt"}, "transform": [{"filter": "datum.s == 'w'"}], "mark": {"type": "rule", "color": "#111"}, "encoding": {"x": {"field": "t", "type": "quantitative", "axis": null}, "y": {"datum": 0, "type": "quantitative", "axis": null}, "y2": {"datum": 0.45}}},
                        {"data": {"name": "brk"}, "transform": [{"filter": "datum.s == 'w' && datum.p != null"}], "mark": {"type": "text", "angle": -45, "align": "left", "baseline": "bottom", "fontSize": 10, "color": "#333"}, "encoding": {"x": {"field": "tl", "type": "quantitative", "axis": null}, "y": {"datum": 0.2, "type": "quantitative", "axis": null}, "text": {"field": "p"}}}
                      ]
                    },
                    {"width": 46, "height": 10, "data": {"values": []}, "mark": "point"},
                    {
                      "width": 78, "height": 10,
                      "layer": [
                        {"data": {"name": "brk"}, "transform": [{"filter": "datum.s == 'i'"}], "mark": {"type": "rule", "color": "#111"}, "encoding": {"x": {"field": "t0", "type": "quantitative", "scale": {"domain": [-1, 0.6], "nice": false, "zero": false}, "axis": null}, "x2": {"field": "t1"}, "y": {"datum": 0, "type": "quantitative", "scale": {"domain": [0, 1]}, "axis": null}}},
                        {"data": {"name": "brt"}, "transform": [{"filter": "datum.s == 'i'"}], "mark": {"type": "rule", "color": "#111"}, "encoding": {"x": {"field": "t", "type": "quantitative", "axis": null}, "y": {"datum": 0, "type": "quantitative", "axis": null}, "y2": {"datum": 0.45}}},
                        {"data": {"name": "brk"}, "transform": [{"filter": "datum.s == 'i' && datum.p != null"}], "mark": {"type": "text", "angle": -45, "align": "left", "baseline": "bottom", "fontSize": 10, "color": "#333"}, "encoding": {"x": {"field": "tl", "type": "quantitative", "axis": null}, "y": {"datum": 0.2, "type": "quantitative", "axis": null}, "text": {"field": "p"}}}
                      ]
                    },
                    {
                      "width": 29, "height": 10,
                      "layer": [
                        {"data": {"name": "brk"}, "transform": [{"filter": "datum.s == 'o'"}], "mark": {"type": "rule", "color": "#111"}, "encoding": {"x": {"field": "t0", "type": "quantitative", "scale": {"domain": [-0.4, 0.2], "nice": false, "zero": false}, "axis": null}, "x2": {"field": "t1"}, "y": {"datum": 0, "type": "quantitative", "scale": {"domain": [0, 1]}, "axis": null}}},
                        {"data": {"name": "brt"}, "transform": [{"filter": "datum.s == 'o'"}], "mark": {"type": "rule", "color": "#111"}, "encoding": {"x": {"field": "t", "type": "quantitative", "axis": null}, "y": {"datum": 0, "type": "quantitative", "axis": null}, "y2": {"datum": 0.45}}},
                        {"data": {"name": "brk"}, "transform": [{"filter": "datum.s == 'o' && datum.p != null"}], "mark": {"type": "text", "angle": -45, "align": "left", "baseline": "bottom", "fontSize": 10, "color": "#333"}, "encoding": {"x": {"field": "tl", "type": "quantitative", "axis": null}, "y": {"datum": 0.2, "type": "quantitative", "axis": null}, "text": {"field": "p"}}}
                      ]
                    },
                    {
                      "width": 59, "height": 10,
                      "layer": [
                        {"data": {"name": "brk"}, "transform": [{"filter": "datum.s == 'w'"}], "mark": {"type": "rule", "color": "#111"}, "encoding": {"x": {"field": "t0", "type": "quantitative", "scale": {"domain": [-0.2, 1], "nice": false, "zero": false}, "axis": null}, "x2": {"field": "t1"}, "y": {"datum": 0, "type": "quantitative", "scale": {"domain": [0, 1]}, "axis": null}}},
                        {"data": {"name": "brt"}, "transform": [{"filter": "datum.s == 'w'"}], "mark": {"type": "rule", "color": "#111"}, "encoding": {"x": {"field": "t", "type": "quantitative", "axis": null}, "y": {"datum": 0, "type": "quantitative", "axis": null}, "y2": {"datum": 0.45}}},
                        {"data": {"name": "brk"}, "transform": [{"filter": "datum.s == 'w' && datum.p != null"}], "mark": {"type": "text", "angle": -45, "align": "left", "baseline": "bottom", "fontSize": 10, "color": "#333"}, "encoding": {"x": {"field": "tl", "type": "quantitative", "axis": null}, "y": {"datum": 0.2, "type": "quantitative", "axis": null}, "text": {"field": "p"}}}
                      ]
                    }
                  ],
                  "spacing": 7, "bounds": "flush"
                },
                {
                  "hconcat": [
                    {"width": 2, "height": 110, "data": {"values": []}, "mark": "point"},
                    {
                      "width": 76, "height": 110,
                      "title": {"text": "C", "dx": -32, "offset": 10},
                      "layer": [
                        {"data": {"values": [{}]}, "mark": {"type": "rule", "color": "#111", "strokeWidth": 1}, "encoding": {"y": {"datum": 0}}},
                        {
                          "data": {"name": "cC"},
                          "mark": {"type": "line", "interpolate": "step-after", "color": "#1a1a1a", "strokeWidth": 2},
                          "encoding": {
                            "x": {"field": "k", "type": "quantitative", "scale": {"domain": [0, 6], "nice": false, "zero": false}, "axis": {"values": [0.5, 1.5, 2.5, 3.5, 4.5, 5.5], "tickCount": 10, "labelExpr": "['Pre-wait','Wait-start','Wait-end','Move','Water-delay','Water/ITI'][floor(datum.value)]", "labelAngle": 45, "labelAlign": "left", "labelBaseline": "middle", "labelFontSize": 10.5, "title": null}},
                            "y": {"field": "r", "type": "quantitative", "scale": {"domain": [-0.3, 0.6], "nice": false, "zero": false}, "axis": {"values": [-0.2, 0, 0.2, 0.4, 0.6], "tickCount": 10, "format": "~g", "labelFontSize": 10.5, "title": "Wait time bias correlation", "titleX": -24}}
                          }
                        }
                      ]
                    },
                    {"width": 35, "height": 110, "data": {"values": []}, "mark": "point"},
                    {
                      "width": 76, "height": 110,
                      "title": {"text": "D", "dx": -25, "offset": 0},
                      "resolve": {"scale": {"x": "independent"}},
                      "layer": [
                        {
                          "data": {"name": "bD"},
                          "mark": {"type": "bar", "color": "#b3b3b3"},
                          "encoding": {
                            "x": {"field": "p", "type": "nominal", "scale": {"domain": ["Pre-wait", "Wait-start", "Wait-end", "Move", "Water-delay", "Water/ITI"], "paddingInner": 0, "paddingOuter": 0}, "axis": null},
                            "y": {"field": "lo", "type": "quantitative", "scale": {"domain": [0, 0.3], "nice": false}, "axis": {"values": [0, 0.1, 0.2, 0.3], "tickCount": 10, "format": "~g", "labelFontSize": 10.5, "title": "Wait time bias correlation", "titleX": -15}},
                            "y2": {"field": "hi"}
                          }
                        },
                        {
                          "data": {"name": "cD"},
                          "mark": {"type": "line", "interpolate": "step-after", "color": "#1a1a1a", "strokeWidth": 2},
                          "encoding": {
                            "x": {"field": "k", "type": "quantitative", "scale": {"domain": [0, 6], "nice": false, "zero": false}, "axis": {"values": [0.5, 1.5, 2.5, 3.5, 4.5, 5.5], "tickCount": 10, "labelExpr": "['Pre-wait','Wait-start','Wait-end','Move','Water-delay','Water/ITI'][floor(datum.value)]", "labelAngle": 45, "labelAlign": "left", "labelBaseline": "middle", "labelFontSize": 10.5, "title": null}},
                            "y": {"field": "r", "type": "quantitative", "axis": {"values": [0, 0.1, 0.2, 0.3], "tickCount": 10, "format": "~g", "labelFontSize": 10.5, "title": "Wait time bias correlation", "titleX": -15}}
                          }
                        },
                        {
                          "data": {"name": "sD"},
                          "mark": {"type": "text", "text": "*", "fontSize": 15, "baseline": "middle", "dy": 5},
                          "encoding": {
                            "x": {"field": "p", "type": "nominal", "scale": {"domain": ["Pre-wait", "Wait-start", "Wait-end", "Move", "Water-delay", "Water/ITI"], "paddingInner": 0, "paddingOuter": 0}, "axis": null},
                            "y": {"field": "y", "type": "quantitative", "axis": {"values": [0, 0.1, 0.2, 0.3], "tickCount": 10, "format": "~g", "labelFontSize": 10.5, "title": "Wait time bias correlation", "titleX": -15}}
                          }
                        },
                        {
                          "data": {"values": [{"lab": "M2 population"}]},
                          "mark": {"type": "text", "fontSize": 10.5, "baseline": "middle", "color": "#333", "dy": -11},
                          "encoding": {
                            "x": {"datum": 3, "type": "quantitative", "scale": {"domain": [0, 6]}, "axis": null},
                            "y": {"datum": 0.3, "type": "quantitative"},
                            "text": {"field": "lab"}
                          }
                        }
                      ]
                    },
                    {"width": 50, "height": 110, "data": {"values": []}, "mark": "point"},
                    {
                      "width": 76, "height": 110,
                      "title": {"text": "E", "dx": -31, "offset": 10},
                      "layer": [
                        {"data": {"values": [{}]}, "mark": {"type": "rule", "color": "#6e6e6e", "strokeWidth": 1.8}, "encoding": {"y": {"datum": 0}}},
                        {
                          "data": {"name": "cE"},
                          "mark": {"type": "line", "interpolate": "step-after", "color": "#1a1a1a", "strokeWidth": 2},
                          "encoding": {
                            "x": {"field": "k", "type": "quantitative", "scale": {"domain": [0, 6], "nice": false, "zero": false}, "axis": {"values": [0.5, 1.5, 2.5, 3.5, 4.5, 5.5], "tickCount": 10, "labelExpr": "['Pre-wait','Wait-start','Wait-end','Move','Water-delay','Water/ITI'][floor(datum.value)]", "labelAngle": 45, "labelAlign": "left", "labelBaseline": "middle", "labelFontSize": 10.5, "title": null}},
                            "y": {"field": "r", "type": "quantitative", "scale": {"domain": [-0.3, 0.6], "nice": false, "zero": false}, "axis": {"values": [-0.2, 0, 0.2, 0.4, 0.6], "tickCount": 10, "format": "~g", "labelFontSize": 10.5, "title": "Wait time bias correlation", "titleX": -22}}
                          }
                        }
                      ]
                    },
                    {"width": 35, "height": 110, "data": {"values": []}, "mark": "point"},
                    {
                      "width": 76, "height": 110,
                      "title": {"text": "F", "dx": -22, "offset": 0},
                      "resolve": {"scale": {"x": "independent"}},
                      "layer": [
                        {
                          "data": {"name": "bF"},
                          "mark": {"type": "bar", "color": "#b3b3b3"},
                          "encoding": {
                            "x": {"field": "p", "type": "nominal", "scale": {"domain": ["Pre-wait", "Wait-start", "Wait-end", "Move", "Water-delay", "Water/ITI"], "paddingInner": 0, "paddingOuter": 0}, "axis": null},
                            "y": {"field": "lo", "type": "quantitative", "scale": {"domain": [0, 0.3], "nice": false}, "axis": {"values": [0, 0.1, 0.2, 0.3], "tickCount": 10, "format": "~g", "labelFontSize": 10.5, "title": "Wait time bias correlation", "titleX": -17}},
                            "y2": {"field": "hi"}
                          }
                        },
                        {
                          "data": {"name": "cF"},
                          "mark": {"type": "line", "interpolate": "step-after", "color": "#1a1a1a", "strokeWidth": 2},
                          "encoding": {
                            "x": {"field": "k", "type": "quantitative", "scale": {"domain": [0, 6], "nice": false, "zero": false}, "axis": {"values": [0.5, 1.5, 2.5, 3.5, 4.5, 5.5], "tickCount": 10, "labelExpr": "['Pre-wait','Wait-start','Wait-end','Move','Water-delay','Water/ITI'][floor(datum.value)]", "labelAngle": 45, "labelAlign": "left", "labelBaseline": "middle", "labelFontSize": 10.5, "title": null}},
                            "y": {"field": "r", "type": "quantitative", "axis": {"values": [0, 0.1, 0.2, 0.3], "tickCount": 10, "format": "~g", "labelFontSize": 10.5, "title": "Wait time bias correlation", "titleX": -17}}
                          }
                        },
                        {
                          "data": {"name": "sF"},
                          "mark": {"type": "text", "text": "*", "fontSize": 15, "baseline": "middle", "dy": 5},
                          "encoding": {
                            "x": {"field": "p", "type": "nominal", "scale": {"domain": ["Pre-wait", "Wait-start", "Wait-end", "Move", "Water-delay", "Water/ITI"], "paddingInner": 0, "paddingOuter": 0}, "axis": null},
                            "y": {"field": "y", "type": "quantitative", "axis": {"values": [0, 0.1, 0.2, 0.3], "tickCount": 10, "format": "~g", "labelFontSize": 10.5, "title": "Wait time bias correlation", "titleX": -17}}
                          }
                        },
                        {
                          "data": {"values": [{"lab": "mPFC population"}]},
                          "mark": {"type": "text", "fontSize": 10.5, "baseline": "middle", "color": "#333", "dy": -11},
                          "encoding": {
                            "x": {"datum": 3, "type": "quantitative", "scale": {"domain": [0, 6]}, "axis": null},
                            "y": {"datum": 0.3, "type": "quantitative"},
                            "text": {"field": "lab"}
                          }
                        }
                      ]
                    }
                  ],
                  "spacing": 0, "bounds": "flush"
                }
              ],
              "spacing": 16
            }
          ],
          "spacing": -7
        }
      ],
      "spacing": 10
    },
    {
      "width": 1, "height": 392,
      "data": {"name": "cap"},
      "layer": [
        {
          "transform": [{"filter": "datum.i < 3"}],
          "mark": {"type": "text", "align": "left", "baseline": "middle", "fontSize": 12, "fontWeight": "bold", "color": "#c0392b"},
          "encoding": {"y": {"field": "i", "type": "quantitative", "scale": {"domain": [-0.45, 28], "reverse": true, "nice": false, "zero": false}, "axis": null}, "text": {"field": "txt"}}
        },
        {
          "transform": [{"filter": "datum.i >= 3"}],
          "mark": {"type": "text", "align": "left", "baseline": "middle", "fontSize": 11, "color": "#222"},
          "encoding": {"y": {"field": "i", "type": "quantitative", "axis": null}, "text": {"field": "txt"}}
        }
      ]
    }
  ],
  "spacing": 2
}
